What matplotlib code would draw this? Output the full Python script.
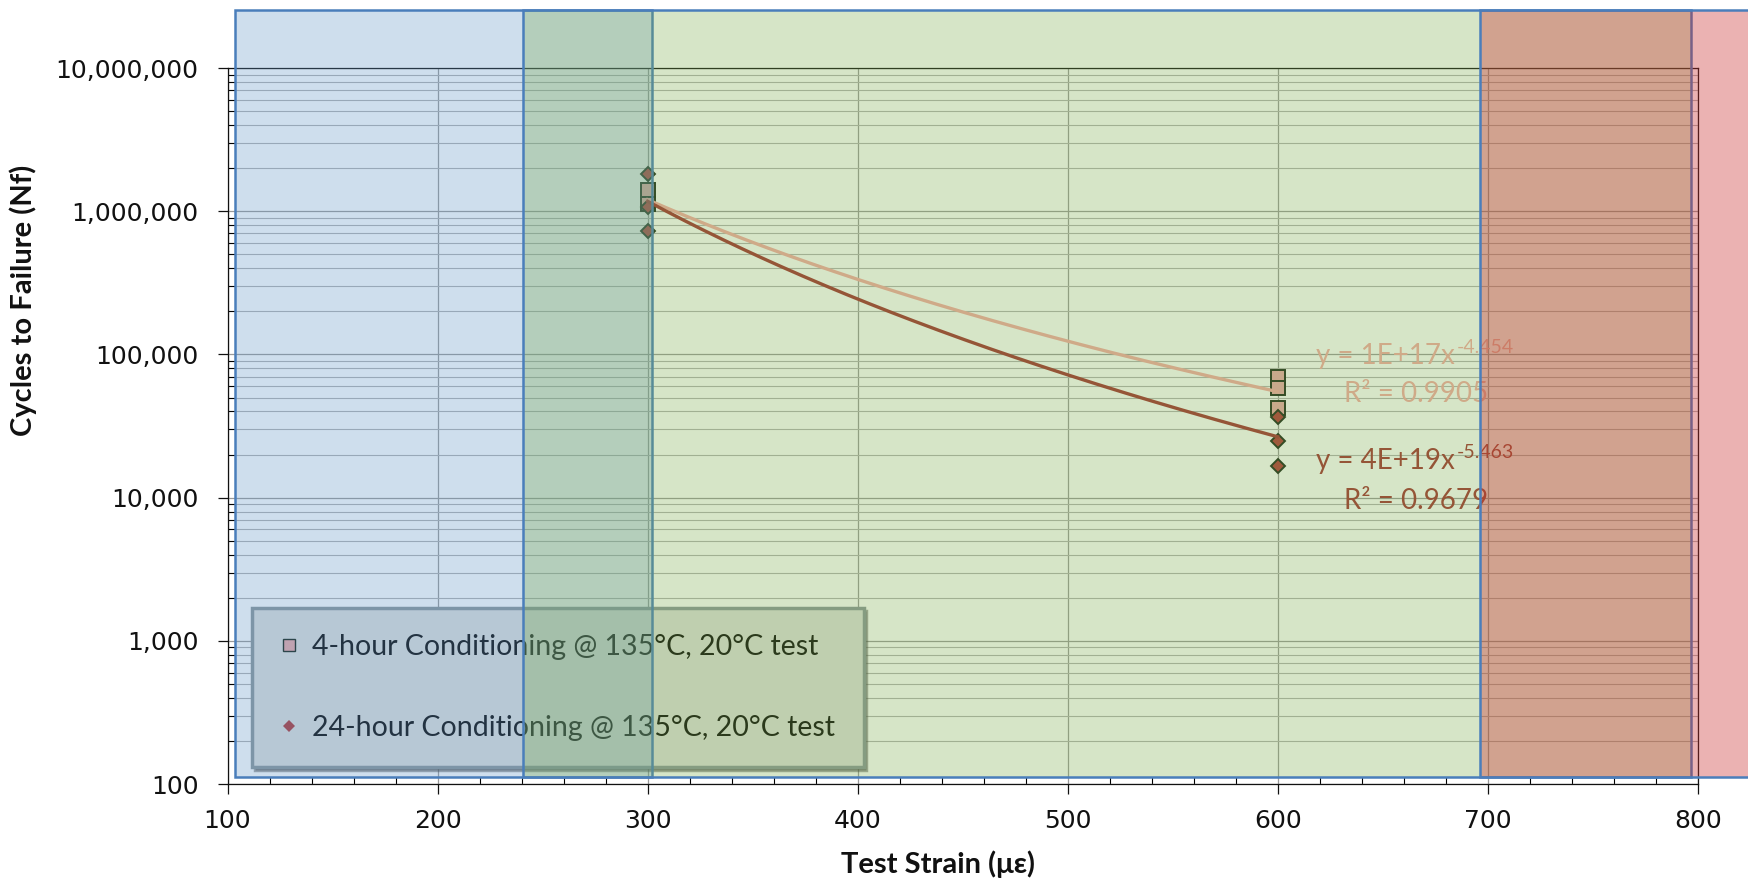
import numpy as np
import matplotlib
matplotlib.use('Agg')
import matplotlib.pyplot as plt
import matplotlib.transforms as mtransforms
from matplotlib.colors import to_rgba
from matplotlib.lines import Line2D
from matplotlib.patches import Rectangle
from matplotlib.ticker import MultipleLocator, LogLocator, FuncFormatter, NullFormatter

# fatigue results, strain in microstrain, cycles to failure
strain_4h = [300, 300, 600, 600, 600]
cycles_4h = [1.41e6, 1.12e6, 69.5e3, 58.3e3, 42.0e3]
strain_24h = [300, 300, 300, 600, 600, 600]
cycles_24h = [1.81e6, 1.07e6, 0.73e6, 36.4e3, 25.0e3, 16.7e3]

# power-law trendlines: Nf = a * strain^b, with R^2
fit_4h = (1.3e17, -4.454, 0.9905)
fit_24h = (4e19, -5.463, 0.9679)

series_names = ['4-hour Conditioning @ 135°C, 20°C test',
                '24-hour Conditioning @ 135°C, 20°C test']

# shaded strain zones (start, end)
zones = [(103.6, 301.9), (240.8, 796.8), (696.4, 900.0)]
zone_colors = ['#5f94c6', '#7aac48', '#c92f2f']
zone_alpha = [0.30, 0.30, 0.37]

c_sq = '#e9a9a9'
c_dia = '#b03737'
c_line4 = '#f5aaa5'
c_line24 = '#a23030'
c_edge = '#162416'

title_font = ['Liberation Sans Narrow', 'Lato', 'DejaVu Sans']
text_font = ['Lato', 'DejaVu Sans']

fig = plt.figure(figsize=(17.49, 8.94), dpi=100)
ax = fig.add_axes([0.1301, 0.1230, 0.8406, 0.8009])

ax.set_yscale('log')
ax.set_xlim(100, 800)
ax.set_ylim(100, 1e7)

ax.xaxis.set_major_locator(MultipleLocator(100))
ax.xaxis.set_minor_locator(MultipleLocator(20))
ax.yaxis.set_major_locator(LogLocator(base=10))
ax.yaxis.set_minor_locator(LogLocator(base=10, subs=np.arange(2, 10)))
ax.yaxis.set_major_formatter(FuncFormatter(lambda v, _: f'{v:,.0f}'))
ax.yaxis.set_minor_formatter(NullFormatter())

ax.set_axisbelow(True)
ax.grid(which='major', axis='both', color='#9a9a9a', lw=0.9)
ax.grid(which='minor', axis='y', color='#b2b2b2', lw=0.8)

ax.tick_params(which='major', direction='out', length=7, width=0.9,
               labelsize=18, colors='#111111')
ax.tick_params(which='minor', direction='in', length=5, width=0.8)
ax.tick_params(axis='y', which='major', pad=14)
ax.tick_params(axis='x', which='major', pad=11)
for s in ax.spines.values():
    s.set_color('#111111')
    s.set_linewidth(0.9)

# data points
ax.plot(strain_4h, cycles_4h, ls='none', marker='s', ms=9.5, mfc=c_sq,
        mec=c_edge, mew=1.4, zorder=3)
ax.plot(strain_24h, cycles_24h, ls='none', marker='D', ms=7.5, mfc=c_dia,
        mec=c_edge, mew=1.4, zorder=3)

# trendlines and their equations
xs = np.linspace(300, 600, 200)
for (a, b, r2), col, dy1, dy2 in [(fit_4h, c_line4, 28, -10),
                                  (fit_24h, c_line24, -32, -72)]:
    ax.plot(xs, a * xs ** b, color=col, lw=2.4, zorder=4)
    end = (600, a * 600 ** b)
    ax.annotate(f'y = {a:.0E}x', xy=end, xytext=(177, dy1),
                textcoords='offset pixels', ha='right', va='baseline',
                fontsize=20, color=col, family=text_font, zorder=4)
    ax.annotate(f'{b:.3f}', xy=end, xytext=(179, dy1 + 11),
                textcoords='offset pixels', ha='left', va='baseline',
                fontsize=14, color=col, family=text_font, zorder=4)
    ax.annotate(f'R² = {r2:.4f}', xy=end, xytext=(138, dy2),
                textcoords='offset pixels', ha='center', va='baseline',
                fontsize=20, color=col, family=text_font, zorder=4)

ax.set_xlabel('Test Strain (με)', fontsize=21, fontweight='bold',
              family=title_font, color='#111111')
ax.set_ylabel('Cycles to Failure (Nf)', fontsize=21, fontweight='bold',
              family=title_font, color='#111111')
ax.xaxis.set_label_coords(0.483, -0.092)
ax.yaxis.set_label_coords(-0.1296, 0.675)

handles = [Line2D([], [], ls='none', marker='s', ms=8, mfc=c_sq, mec=c_edge, mew=1.0),
           Line2D([], [], ls='none', marker='D', ms=6.5, mfc=c_dia, mec='#ffffff', mew=0.0)]
leg = ax.legend(handles, series_names, loc='lower left',
                bbox_to_anchor=(0.0167, 0.0237, 0.416, 0.22), mode='expand',
                borderaxespad=0, borderpad=0.9, labelspacing=1.95,
                handlelength=0.8, handletextpad=0.4,
                prop={'family': text_font, 'size': 20.5},
                frameon=True, fancybox=False, framealpha=1,
                shadow={'color': '#3a3a3a', 'alpha': 0.45})
leg.get_frame().set_facecolor('#dedfdc')
leg.get_frame().set_edgecolor('#8a969a')
leg.get_frame().set_linewidth(2.5)
for t in leg.get_texts():
    t.set_color('#0a0a0a')

# translucent zone overlays drawn on top of the chart
trans = mtransforms.blended_transform_factory(ax.transData, ax.transAxes)
for (x0, x1), col, al in zip(zones, zone_colors, zone_alpha):
    ax.add_patch(Rectangle((x0, 0.0098), x1 - x0, 1.081 - 0.0098,
                           transform=trans, clip_on=False, zorder=10,
                           facecolor=to_rgba(col, al), edgecolor='#4a7ebb',
                           lw=1.8))

fig.savefig('out.png', dpi=100)
